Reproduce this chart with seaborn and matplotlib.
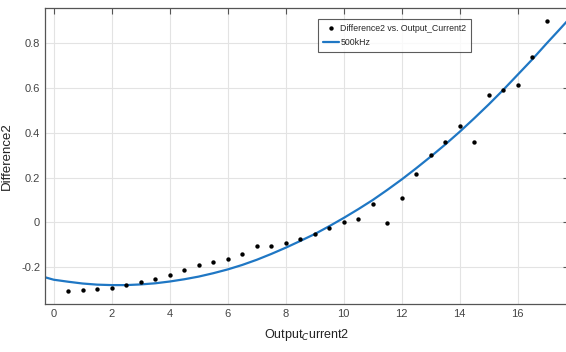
import numpy as np
import pandas as pd
import matplotlib
matplotlib.use("Agg")
import matplotlib.pyplot as plt
import seaborn as sns

# measured points
current = [0.5, 1, 1.5, 2, 2.5, 3, 3.5, 4, 4.5, 5, 5.5, 6, 6.5, 7, 7.5, 8, 8.5,
           9, 9.5, 10, 10.5, 11, 11.5, 12, 12.5, 13, 13.5, 14, 14.5, 15, 15.5,
           16, 16.5, 17]
difference = [-0.307, -0.302, -0.299, -0.295, -0.280, -0.265, -0.253, -0.237,
              -0.214, -0.190, -0.177, -0.162, -0.143, -0.104, -0.107, -0.092,
              -0.073, -0.054, -0.027, 0.000, 0.015, 0.083, -0.004, 0.110,
              0.218, 0.300, 0.357, 0.431, 0.360, 0.568, 0.592, 0.613, 0.738,
              0.899]

# fitted curve
fit_x = [-0.3, 0, 0.5, 1, 1.5, 2, 2.5, 3, 3.5, 4, 4.5, 5, 5.5, 6, 6.5, 7, 7.5,
         8, 8.5, 9, 9.5, 10, 10.5, 11, 11.5, 12, 12.5, 13, 13.5, 14, 14.5, 15,
         15.5, 16, 16.5, 17, 17.4, 17.8]
fit_y = [-0.245, -0.256, -0.265, -0.273, -0.278, -0.280, -0.280, -0.277,
         -0.272, -0.264, -0.254, -0.242, -0.227, -0.210, -0.190, -0.167,
         -0.141, -0.113, -0.083, -0.052, -0.017, 0.020, 0.059, 0.100, 0.145,
         0.192, 0.242, 0.294, 0.348, 0.405, 0.465, 0.527, 0.592, 0.660,
         0.728, 0.800, 0.856, 0.913]

x_ticks = [0, 2, 4, 6, 8, 10, 12, 14, 16]
y_ticks = [-0.2, 0, 0.2, 0.4, 0.6, 0.8]
y_tick_labels = ["-0.2", "0", "0.2", "0.4", "0.6", "0.8"]

sns.set_style("white")
plt.rcParams['font.family'] = ['Liberation Sans Narrow', 'Liberation Sans', 'DejaVu Sans']

df_pts = pd.DataFrame({"x": current, "y": difference})
df_fit = pd.DataFrame({"x": fit_x, "y": fit_y})

fig = plt.figure(figsize=(5.66, 3.52), dpi=100)
ax = fig.add_axes([0.0795, 0.136, 0.925, 0.841])

sns.scatterplot(data=df_pts, x="x", y="y", ax=ax, color="black", s=10,
                edgecolor="black", linewidth=0, label="Difference2 vs. Output_Current2",
                zorder=3)
sns.lineplot(data=df_fit, x="x", y="y", ax=ax, color="#1f77c4", linewidth=1.6,
             label="500kHz", zorder=2)

ax.set_xlim(-0.3, 17.75)
ax.set_ylim(-0.365, 0.957)
ax.set_xticks(x_ticks)
ax.set_yticks(y_ticks)
ax.set_yticklabels(y_tick_labels)
ax.grid(True, color="#e3e3e3", linewidth=0.8)
ax.tick_params(direction="in", length=4, color="#555555", labelcolor="#444444",
               labelsize=8, top=True, right=True, width=0.8)
for s in ax.spines.values():
    s.set_color("#555555")
    s.set_linewidth(0.9)

ax.set_xlabel("Output$_C$urrent2", fontsize=9, color="#222222", labelpad=6)
ax.set_ylabel("Difference2", fontsize=9.5, color="#222222", labelpad=6)

leg = ax.legend(loc="upper left", bbox_to_anchor=(0.522, 0.962), fontsize=6.3,
                frameon=True, fancybox=False, edgecolor="#333333",
                handlelength=1.9, handletextpad=0.1, borderpad=0.5,
                labelspacing=0.65, borderaxespad=0)
leg.get_frame().set_linewidth(0.8)

fig.savefig("out.png", dpi=100)
